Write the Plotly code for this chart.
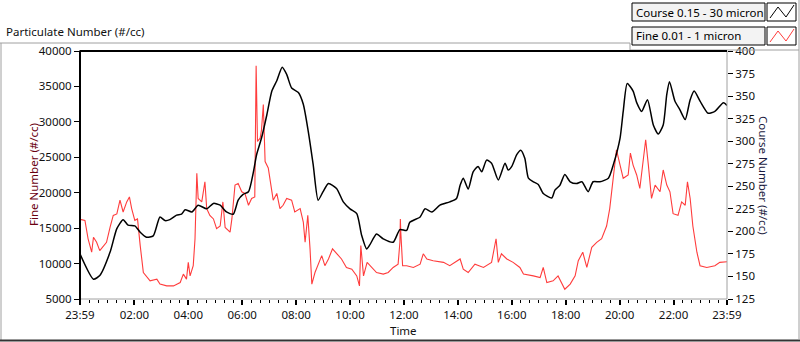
import pandas as pd
import plotly.graph_objects as go

# ---- data (time = minutes after midnight; -1 = 23:59 of the previous day) ----
course_min = [-1, 29, 43, 66, 81, 95, 106, 121, 133, 147, 162, 177, 188, 199, 214, 225, 233, 248,
              262, 281, 296, 311, 325, 340, 351, 362, 374, 385, 392, 403, 415, 426, 437, 449, 459,
              470, 485, 496, 507, 518, 529, 540, 552, 570, 585, 600, 615, 626, 637, 644, 659, 674,
              696, 711, 726, 733, 756, 767, 782, 800, 822, 837, 845, 852, 863, 874, 885, 893, 904,
              915, 930, 945, 952, 960, 971, 980, 989, 997, 1008, 1019, 1030, 1049, 1056, 1067, 1078,
              1090, 1104, 1116, 1130, 1141, 1156, 1175, 1186, 1201, 1208, 1217, 1230, 1238, 1249,
              1262, 1275, 1286, 1297, 1305, 1311, 1323, 1334, 1346, 1357, 1366, 1379, 1397, 1412,
              1431, 1439]
course_val = [175, 147, 151, 177, 203, 213, 207, 206, 199, 193.5, 195, 216, 212, 213, 218, 219, 224,
              221.5, 229, 225, 231, 229, 221.5, 219, 234.6, 241, 244, 266, 285, 303.5, 329.6, 355.6,
              367, 382, 374, 359, 354, 341, 311, 274, 234.6, 244, 253, 247.6, 232.7, 225, 219.7,
              195.4, 180.5, 185, 197, 191.7, 188, 202, 201, 210, 216, 225, 221.5, 229, 232.7, 236.5,
              251, 259, 247, 266, 272, 266, 279, 275.6, 257, 275.6, 268, 272, 285, 290, 281, 259, 255,
              252, 242, 237, 245.7, 251, 263, 255, 253, 255, 244, 255, 255, 259, 274, 303.5, 333, 364,
              355.6, 342.7, 333, 346, 318, 308, 318, 352, 366, 344.5, 335, 324, 346, 355.6, 344.5,
              331, 333, 342.7, 339.7]

fine_min = [-1, 10, 17, 25, 29, 36, 43, 51, 58, 66, 73, 81, 88, 95, 103, 109, 114, 121, 127, 133,
            140, 155, 170, 177, 192, 207, 222, 229, 236, 240, 244, 251, 255, 259, 262, 270, 277, 281,
            288, 296, 303, 311, 317, 322, 333, 337, 344, 351, 359, 366, 374, 381, 388, 391, 394, 400,
            403, 407, 411, 418, 422, 429, 437, 444, 451, 459, 470, 477, 489, 496, 500, 506, 511, 515,
            522, 529, 537, 544, 552, 561, 570, 581, 592, 604, 615, 621, 624, 630, 638, 648, 659, 674,
            685, 696, 707, 711, 712, 713, 717, 726, 741, 756, 763, 771, 785, 808, 822, 845, 852, 863,
            878, 897, 915, 925, 930, 937, 949, 963, 978, 986, 1008, 1023, 1030, 1038, 1052, 1063,
            1078, 1090, 1101, 1108, 1118, 1127, 1138, 1149, 1160, 1171, 1178, 1186, 1193, 1201, 1208,
            1219, 1224, 1230, 1238, 1245, 1253, 1258, 1264, 1271, 1279, 1290, 1297, 1305, 1312, 1319,
            1330, 1338, 1346, 1351, 1357, 1363, 1372, 1379, 1394, 1412, 1423, 1439]
fine_val = [16240, 16100, 13500, 11600, 13720, 13000, 11830, 12540, 13000, 15150, 16800, 17000,
            18950, 17280, 18700, 19400, 17760, 16100, 16300, 12540, 8740, 7560, 7800, 7100, 6850,
            6850, 7320, 8510, 7800, 10170, 8260, 9700, 13500, 22740, 19190, 18700, 21550, 17760,
            16800, 16300, 14920, 15300, 18700, 15100, 14430, 16300, 21080, 21300, 20130, 19900,
            18230, 19190, 19400, 37900, 27240, 27700, 28900, 32460, 24400, 23500, 21550, 18950,
            19900, 17760, 18230, 19190, 18950, 17280, 17760, 15860, 13000, 16800, 12070, 7100, 8740,
            9920, 11120, 9700, 10650, 12070, 11380, 10650, 9450, 9220, 8260, 6850, 12540, 8260,
            10170, 9450, 8740, 8510, 8740, 9450, 9920, 13000, 16300, 14430, 9700, 9700, 9450, 9920,
            11380, 10650, 10400, 10170, 9700, 10650, 9220, 8740, 9920, 9450, 10170, 13500, 10170,
            11380, 10650, 10170, 9450, 8510, 8260, 8020, 9450, 7320, 7560, 8260, 6380, 7100, 8260,
            10400, 11600, 9450, 12300, 13000, 13500, 15300, 17760, 22030, 26060, 23900, 22030,
            22500, 25590, 23900, 22500, 20600, 24400, 27480, 23900, 19190, 21080, 20130, 23210,
            21080, 20130, 17040, 16800, 18700, 18230, 21550, 19190, 15300, 11600, 9700, 9450, 9700,
            10170, 10260]

tick_min = [-1, 120, 240, 360, 480, 600, 720, 840, 960, 1080, 1200, 1320, 1439]
tick_text = ["23:59", "02:00", "04:00", "06:00", "08:00", "10:00", "12:00", "14:00",
             "16:00", "18:00", "20:00", "22:00", "23:59"]

fine_ticks = [5000, 10000, 15000, 20000, 25000, 30000, 35000, 40000]
course_ticks = [125, 150, 175, 200, 225, 250, 275, 300, 325, 350, 375, 400]

legend_names = ["Course 0.15 - 30 micron", "Fine 0.01 - 1 micron"]

# ---- build ----
base = pd.Timestamp("2024-01-02 00:00")
def T(m):
    return base + pd.to_timedelta(m, unit="m")

FONT = "Noto Sans, Open Sans, sans-serif"
FS = 11.5
W, H = 800, 342
L, R, TOP, BOT = 80, 727, 51, 299

def PX(x):
    return (x - L) / (R - L)
def PY(y):
    return (BOT - y) / (BOT - TOP)

fig = go.Figure()
fig.add_trace(go.Scatter(x=[T(m) for m in fine_min], y=fine_val, mode="lines",
                         line=dict(color="#ff3c3c", width=1.1), name=legend_names[1], yaxis="y"))
fig.add_trace(go.Scatter(x=[T(m) for m in course_min], y=course_val, mode="lines",
                         line=dict(color="#000000", width=1.5, shape="spline", smoothing=0.6),
                         name=legend_names[0], yaxis="y2"))

minor_vals = [T(m) for m in range(0, 1440, 20)]
tfont = dict(size=FS, color="#111111", family=FONT)

fig.update_layout(
    width=W, height=H,
    margin=dict(l=L, r=W - R, t=TOP, b=H - BOT),
    paper_bgcolor="white", plot_bgcolor="white",
    showlegend=False,
    font=dict(family=FONT, size=FS, color="#111111"),
    xaxis=dict(
        range=[T(-1), T(1439)], tickmode="array",
        tickvals=[T(m) for m in tick_min], ticktext=tick_text,
        ticks="outside", ticklen=5, tickwidth=2, tickcolor="#000000",
        showgrid=False, zeroline=False, showline=False,
        minor=dict(tickmode="array", tickvals=minor_vals, ticks="outside",
                   ticklen=3, tickwidth=1, tickcolor="#000000", showgrid=False),
        tickfont=tfont,
    ),
    yaxis=dict(
        range=[5000, 40000], tickmode="array", tickvals=fine_ticks,
        ticktext=[str(v) for v in fine_ticks],
        ticks="outside", ticklen=5, tickwidth=1, tickcolor="#000000",
        showgrid=False, zeroline=False, showline=False,
        tickfont=tfont,
    ),
    yaxis2=dict(
        range=[125, 400], tickmode="array", tickvals=course_ticks,
        ticktext=[str(v) for v in course_ticks],
        overlaying="y", side="right",
        ticks="outside", ticklen=5, tickwidth=1, tickcolor="#000000",
        showgrid=False, zeroline=False, showline=False,
        tickfont=tfont,
    ),
)

shapes = []
def line(x0, y0, x1, y1, color, width):
    shapes.append(dict(type="line", xref="paper", yref="paper",
                       x0=PX(x0), y0=PY(y0), x1=PX(x1), y1=PY(y1),
                       line=dict(color=color, width=width), layer="above"))
def rect(x0, y0, x1, y1, fill, border):
    shapes.append(dict(type="rect", xref="paper", yref="paper",
                       x0=PX(x0), y0=PY(y0), x1=PX(x1), y1=PY(y1),
                       fillcolor=fill, line=dict(color=border, width=1), layer="above"))

# outer frame
line(0, 43, 630, 43, "#a0a0a0", 1)
line(1, 43, 1, 340, "#a0a0a0", 1)
line(0, 340.5, 800, 340.5, "#333333", 2)
line(630, 43, 630, 50, "#a0a0a0", 1)
line(630, 50, 799, 50, "#a0a0a0", 1)
line(799, 0, 799, 340, "#a0a0a0", 1)
# plot frame (dark top/left, gray bottom/right)
line(L, BOT, R, BOT, "#a0a0a0", 1)
line(R, TOP, R, BOT, "#a0a0a0", 1)
line(L - 0.5, TOP, R, TOP, "#000000", 2)
line(L, TOP, L, BOT + 1, "#000000", 2)

# legend boxes
rows = [(3, 21, "#000000"), (27, 45, "#ff3c3c")]
for (y0, y1, col) in rows:
    rect(632, y0, 765, y1, "#f3f3f3", "#000000")
    rect(767, y0, 796, y1, "#ffffff", "#000000")
    pts = [(770, y1 - 3), (778, y0 + 4), (786, y1 - 4), (794, y0 + 2)]
    path = "M " + " L ".join(f"{PX(a)},{PY(b)}" for a, b in pts)
    shapes.append(dict(type="path", xref="paper", yref="paper", path=path,
                       line=dict(color=col, width=1), layer="above"))

fig.update_layout(shapes=shapes)

ann = []
ann.append(dict(text="Particulate Number (#/cc)", x=PX(4), y=PY(31), xref="paper", yref="paper",
                xanchor="left", yanchor="middle", showarrow=False,
                font=dict(size=FS, color="#111111", family=FONT)))
ann.append(dict(text="Fine Number (#/cc)", x=PX(33), y=PY(175), xref="paper", yref="paper",
                xanchor="center", yanchor="middle", showarrow=False, textangle=-90,
                font=dict(size=FS, color="#6a0010", family=FONT)))
ann.append(dict(text="Course Number (#/cc)", x=PX(764), y=PY(175), xref="paper", yref="paper",
                xanchor="center", yanchor="middle", showarrow=False, textangle=90,
                font=dict(size=FS, color="#1a1a40", family=FONT)))
ann.append(dict(text="Time", x=PX(403), y=PY(330), xref="paper", yref="paper",
                xanchor="center", yanchor="middle", showarrow=False,
                font=dict(size=FS, color="#111111", family=FONT)))
for name, (y0, y1, _) in zip(legend_names, rows):
    ann.append(dict(text=name, x=PX(634), y=PY((y0 + y1) / 2), xref="paper", yref="paper",
                    xanchor="left", yanchor="middle", showarrow=False,
                    font=dict(size=FS, color="#000000", family=FONT)))
fig.update_layout(annotations=ann)

fig.write_html("out.html", config={"displayModeBar": False})
with open("out.html", "r", encoding="utf-8") as f:
    html = f.read()
html = html.replace("<head>", "<head><style>html,body{margin:0;padding:0;overflow:hidden;}</style>", 1)
with open("out.html", "w", encoding="utf-8") as f:
    f.write(html)
